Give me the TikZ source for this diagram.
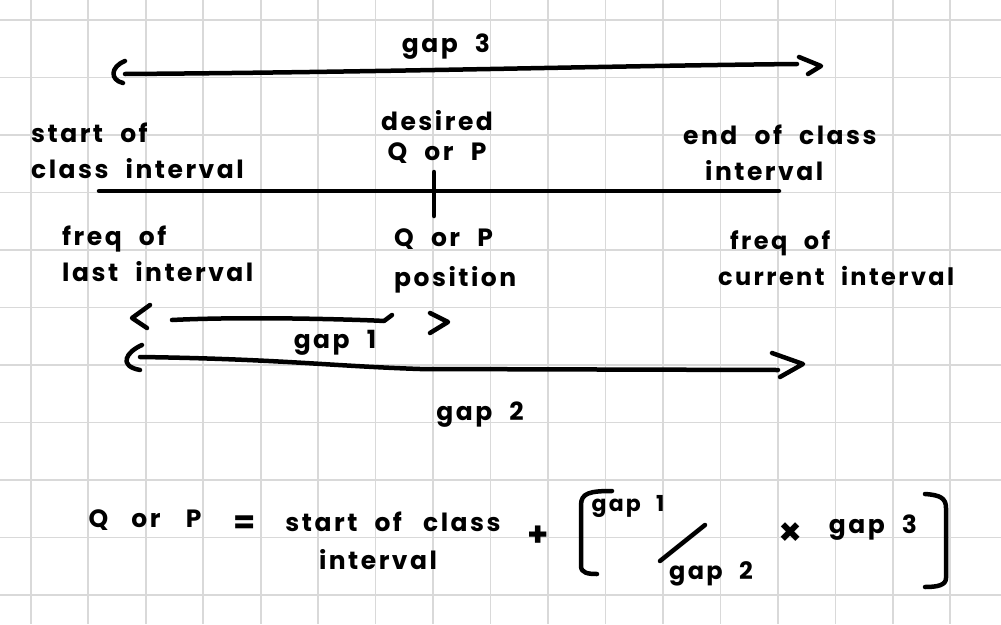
\documentclass[tikz,border=0pt]{standalone}
\usepackage{fontspec}
\setmainfont{Poppins}
\newfontfamily\hand{Poppins}[LetterSpace=10,WordSpace=2.2]
\definecolor{gridgray}{HTML}{D9D9D9}
\begin{document}
\begin{tikzpicture}[x=1pt,y=-1pt,
  ink/.style={line width=4.5pt, line cap=round, line join=round, draw=black},
  gridline/.style={line width=1.8pt, draw=gridgray},
  lbl/.style={font=\hand\fontsize{25}{30}\selectfont\bfseries, inner sep=0pt, text=black},
  small/.style={font=\hand\fontsize{22}{24}\selectfont\bfseries, inner sep=0pt, text=black}]
\fill[white] (0,0) rectangle (1001,624);
\useasboundingbox (0,0) rectangle (1001,624);
% grid
\foreach \i in {0,...,16} \draw[gridline] ({30.7+\i*57.48},0) -- ({30.7+\i*57.48},624);
\foreach \j in {0,...,10} \draw[gridline] (0,{20+\j*57.5}) -- (1001,{20+\j*57.5});

% labels
\node[lbl] (gapthree) at (446,47) {gap 3};
\node[lbl, align=left, anchor=west, font=\hand\fontsize{25}{36}\selectfont\bfseries] (startlbl) at (31,151) {start of\\class interval};
\node[lbl, align=center, font=\hand\fontsize{25}{30}\selectfont\bfseries] (desired) at (437,137) {desired\\Q or P};
\node[lbl, align=left, anchor=west, font=\hand\fontsize{25}{36}\selectfont\bfseries] (endlbl) at (683,153) {end of class\\\hspace{22pt}interval};
\node[lbl, align=left, anchor=west, font=\hand\fontsize{25}{36}\selectfont\bfseries] (freqlast) at (62,254) {freq of\\last interval};
\node[lbl, align=left, anchor=west, font=\hand\fontsize{25}{40}\selectfont\bfseries] (qpos) at (394,261) {Q or P\\position};
\node[lbl, align=left, anchor=west, font=\hand\fontsize{24}{36}\selectfont\bfseries] (freqcur) at (718,258) {\hspace{12pt}freq of\\current interval};
\node[lbl] (gaponelbl) at (335,343) {gap 1};
\node[lbl] (gaptwolbl) at (480,415) {gap 2};

% main line and tick
\coordinate (mainL) at (99,191);
\coordinate (mainR) at (779,191);
\coordinate (tickT) at (434,172);
\coordinate (tickB) at (434,216);
\draw[ink] (mainL) -- (mainR);
\draw[ink] (tickT) -- (tickB);

% gap 3 arrow
\coordinate (gthreeL) at (125,74);
\coordinate (gthreeR) at (797,64);
\draw[ink] (gthreeL) .. controls (400,72) and (600,66) .. (gthreeR);
\draw[ink] (125,61) .. controls (110,67) and (110,80) .. (123,83);
\draw[ink] (799,57) -- (821,66) -- (808,74);

% gap 1 arrow
\coordinate (goneL) at (172,320);
\coordinate (goneR) at (392,315);
\draw[ink] (goneL) .. controls (250,316) and (370,320) .. (384,321) -- (goneR);
\draw[ink] (150,305) -- (132,318) -- (147,328);
\draw[ink] (430,313) -- (448,322) -- (430,333);

% gap 2 arrow
\coordinate (gtwoL) at (140,357);
\coordinate (gtwoR) at (778,370);
\draw[ink] (gtwoL) .. controls (280,359) and (330,366) .. (420,369) -- (gtwoR);
\draw[ink] (142,345) .. controls (126,352) and (118,366) .. (140,370);
\draw[ink] (772,353) -- (803,364) -- (780,377);

% formula
\node[lbl] (fqp) at (145,520) {Q\hspace{6pt} or\hspace{8pt} P};
\node[lbl, font=\hand\fontsize{32}{32}\selectfont\bfseries] (feq) at (245,525) {=};
\node[lbl] (fstart) at (393,522) {start of\hspace{4pt} class};
\node[lbl] (finterval) at (378,560) {interval};
\node[lbl, font=\hand\fontsize{34}{34}\selectfont\bfseries] (fplus) at (538,536) {+};
\coordinate (lbT) at (612,491);
\coordinate (lbB) at (597,574);
\draw[ink] (lbT) .. controls (590,491) and (581,493) .. (581,505) -- (581,566) .. controls (581,573) and (588,574) .. (lbB);
\node[small] (fgapone) at (628,506) {gap 1};
\draw[ink] (660,561) -- (705,525);
\node[small, font=\hand\fontsize{24}{24}\selectfont\bfseries] (fgaptwo) at (711,574) {gap 2};
\node[lbl, font=\hand\fontsize{38}{38}\selectfont\bfseries] (ftimes) at (791,534) {×};
\node[lbl] (fgapthree) at (873,528) {gap 3};
\coordinate (rbT) at (925,494);
\coordinate (rbB) at (925,587);
\draw[ink] (rbT) .. controls (940,495) and (946,498) .. (946,508) -- (946,578) .. controls (946,585) and (938,587) .. (rbB);
\end{tikzpicture}
\end{document}
